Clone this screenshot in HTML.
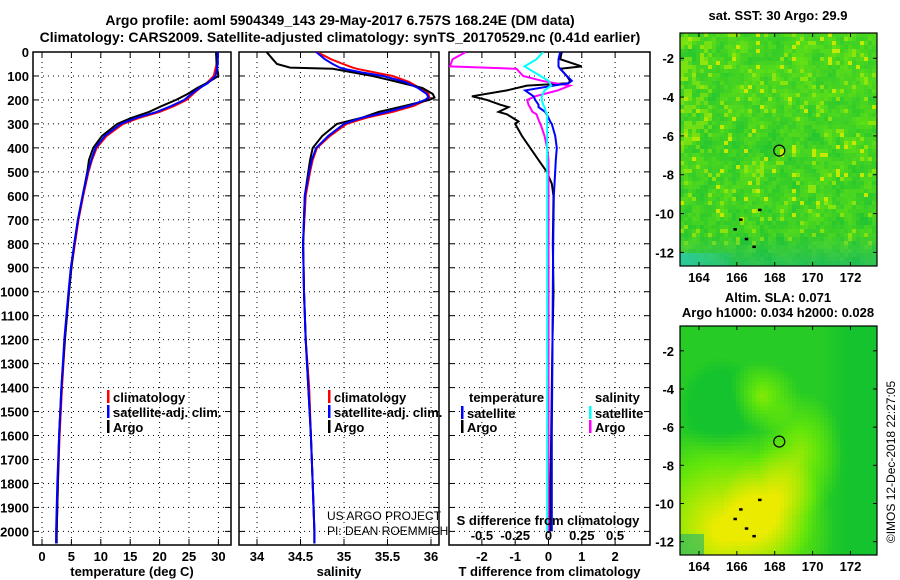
<!DOCTYPE html>
<html><head><meta charset="utf-8">
<style>
html,body{margin:0;padding:0;background:#fff;}
svg{display:block;font-family:"Liberation Sans",Arial,sans-serif;}
.b{font-weight:bold;font-size:13px;fill:#000;}
.t{font-weight:bold;font-size:14px;fill:#000;}
</style></head>
<body>
<svg id="chart" width="900" height="580" viewBox="0 0 900 580">
<text class="t" x="340" y="25" text-anchor="middle">Argo profile: aoml 5904349_143 29-May-2017 6.757S 168.24E (DM data)</text>
<text class="t" x="340" y="42" text-anchor="middle">Climatology: CARS2009. Satellite-adjusted climatology: synTS_20170529.nc (0.41d earlier)</text>
<g id="g"></g>
<text x="895" y="462" font-size="12" text-anchor="middle" transform="rotate(-90 895 462)">©IMOS 12-Dec-2018 22:27:05</text>
</svg>
<script>
// ---- data ----
const depthTicks=[0,100,200,300,400,500,600,700,800,900,1000,1100,1200,1300,1400,1500,1600,1700,1800,1900,2000];
const tempTicks=[0,5,10,15,20,25,30];
const salTicks=[34,34.5,35,35.5,36];
const tdTicks=[-2,-1,0,1,2];
const sdTicks=[-0.5,-0.25,0,0.25,0.5];
const sdTickLabels=["-0.5","-0.25","0","0.25","0.5"];
const tDepth=[0,50,100,130,150,175,200,225,250,275,300,350,400,450,500,600,700,800,900,1000,1200,1400,1600,1800,2000,2050];
const tClim=[29.8,29.7,29.2,28,26.9,25.7,24.6,22.5,20,16.5,13.8,11,9.3,8.5,7.9,7.0,6.2,5.6,5.0,4.6,3.9,3.4,3.0,2.7,2.5,2.4];
const tSatAdj=[29.9,29.9,29.5,28.2,26.8,25.4,24.2,22,19.5,16,13.4,10.7,9.1,8.4,7.8,6.9,6.1,5.5,4.9,4.5,3.8,3.3,2.9,2.6,2.4,2.4];
const tArgoProf=[29.6,29.7,30.0,28.0,26.4,24.8,22.8,20.4,18.2,15.2,12.8,10.2,8.7,8.0,7.7,6.9,6.1,5.5,5.0,4.6,3.9,3.3,2.9,2.7,2.5,2.5];
const sDepth=[0,30,50,65,70,85,100,125,150,175,190,200,225,250,275,300,350,400,450,500,600,800,1000,1200,1400,1600,1800,2000,2050];
const sClim=[34.69,34.85,34.99,35.1,35.15,35.35,35.56,35.75,35.87,35.97,35.98,35.95,35.8,35.56,35.25,35.03,34.84,34.69,34.64,34.61,34.56,34.53,34.54,34.56,34.6,34.62,34.64,34.66,34.66];
const sSatAdj=[34.68,34.78,34.87,34.95,35.0,35.2,35.45,35.7,35.85,35.95,35.97,35.93,35.75,35.5,35.2,35.0,34.82,34.68,34.63,34.6,34.55,34.53,34.54,34.56,34.59,34.62,34.64,34.66,34.66];
const sArgoProf=[34.11,34.18,34.23,34.38,34.87,35.1,35.33,35.62,35.9,36.02,36.04,35.98,35.7,35.4,35.2,34.92,34.75,34.64,34.61,34.59,34.55,34.53,34.54,34.56,34.59,34.62,34.64,34.66,34.66];
const dDepth=[0,30,60,70,100,120,130,140,160,185,200,220,230,250,260,290,300,350,400,450,500,550,600,800,1000,1200,1400,1600,1800,2000];
const tdArgo=[0.4,0.35,1.0,0.35,0.55,0.65,0.6,-0.65,-1.25,-2.3,-1.85,-1.45,-1.2,-1.5,-1.25,-0.9,-1.0,-0.8,-0.55,-0.3,-0.05,0.1,0.15,0.13,0.15,0.12,0.1,0.08,0.06,0.05];
const tdSat=[0.35,0.3,0.3,0.35,0.55,0.7,0.6,0.15,-0.7,-0.45,-0.4,-0.3,-0.3,-0.1,-0.05,0.05,0.1,0.2,0.25,0.22,0.2,0.18,0.16,0.14,0.13,0.12,0.11,0.1,0.1,0.1];
const sdArgo=[-0.62,-0.72,-0.74,-0.24,-0.19,-0.05,0.05,0.16,0.07,-0.1,-0.16,-0.15,-0.14,-0.12,-0.09,-0.07,-0.06,-0.03,-0.01,0,0,0,0,0,0,0,0,0,0,0];
const sdSat=[-0.04,-0.09,-0.18,-0.15,-0.06,0.0,0.01,0.02,-0.03,-0.05,-0.05,-0.04,-0.03,-0.02,-0.01,-0.01,-0.01,-0.01,-0.01,-0.01,-0.01,-0.01,-0.01,-0.01,-0.01,-0.01,-0.01,-0.01,-0.01,-0.01];
const latTicks=[-2,-4,-6,-8,-10,-12];
const lonTicks=[164,166,168,170,172];
const argoLon=168.24, argoLat=-6.757;

const NS="http://www.w3.org/2000/svg";
const G=document.getElementById('g');
function mk(tag,attrs,parent){const e=document.createElementNS(NS,tag);for(const k in attrs)e.setAttribute(k,attrs[k]);(parent||G).appendChild(e);return e;}
const TOP=52,BOT=545;
const yD=d=>TOP+d*0.2397;

function panel(name,x0,x1,xs,ticks,labels,title){
  const g=mk('g',{});
  
  
  depthTicks.forEach(d=>{const y=yD(d);
    const l=mk('line',{x1:x0,x2:x1,y1:y,y2:y,stroke:'#000','stroke-width':1,'stroke-dasharray':'1 4'},g);
    
    
    mk('line',{x1:x0,x2:x0+6,y1:y,y2:y,stroke:'#000'},g);mk('line',{x1:x1-6,x2:x1,y1:y,y2:y,stroke:'#000'},g);});
  ticks.forEach((v,i)=>{const x=xs(v);
    const l=mk('line',{x1:x,x2:x,y1:TOP,y2:BOT,stroke:'#000','stroke-width':1,'stroke-dasharray':'1 4'},g);
    
    
    mk('line',{x1:x,x2:x,y1:TOP,y2:TOP+6,stroke:'#000'},g);mk('line',{x1:x,x2:x,y1:BOT-6,y2:BOT,stroke:'#000'},g);
    const t=mk('text',{x:x,y:561,'text-anchor':'middle',class:'b'},g);t.textContent=labels[i];
    
    });
  const r=mk('rect',{x:x0,y:TOP,width:x1-x0,height:BOT-TOP,fill:'none',stroke:'#000','stroke-width':1.5},g);
  
  
  const tt=mk('text',{x:(x0+x1)/2,y:576,'text-anchor':'middle',class:'b'},g);tt.textContent=title;
  
  
  return g;
}
function series(name,xs,vals,deps,color,x0,x1){
  const pts=vals.map((v,i)=>xs(v).toFixed(1)+','+yD(deps[i]).toFixed(1)).join(' ');
  const id='c'+name;const cp=mk('clipPath',{id:id});mk('rect',{x:x0,y:TOP,width:x1-x0,height:BOT-TOP},cp);
  const p=mk('polyline',{points:pts,fill:'none',stroke:color,'stroke-width':2,'stroke-linejoin':'miter','clip-path':'url(#'+id+')'});
  
  
}
depthTicks.forEach(d=>{const t=mk('text',{x:29,y:yD(d)+5,'text-anchor':'end',class:'b'});t.textContent=d;
  
  });

const xT=v=>42+v*5.88;
panel('temperature',33,231,xT,tempTicks,tempTicks.map(String),'temperature (deg C)');
series('temp-climatology',xT,tClim,tDepth,'#f00',33,231);
series('temp-argo',xT,tArgoProf,tDepth,'#000',33,231);
series('temp-satellite-adj',xT,tSatAdj,tDepth,'#00f',33,231);
const xS=v=>257+(v-34)*87;
panel('salinity',239,439,xS,salTicks,salTicks.map(String),'salinity');
series('sal-climatology',xS,sClim,sDepth,'#f00',239,439);
series('sal-argo',xS,sArgoProf,sDepth,'#000',239,439);
series('sal-satellite-adj',xS,sSatAdj,sDepth,'#00f',239,439);
const xTD=v=>548.5+v*33.3;
const xSD=v=>548.5+v*133.2;
panel('difference',449,650,xTD,tdTicks,tdTicks.map(String),'T difference from climatology');
series('tdiff-argo',xTD,tdArgo,dDepth,'#000',449,650);
series('sdiff-argo',xSD,sdArgo,dDepth,'#f0f',449,650);
series('tdiff-satellite',xTD,tdSat,dDepth,'#00f',449,650);
series('sdiff-satellite',xSD,sdSat,dDepth,'#0ff',449,650);
{const t=mk('text',{x:548,y:525,'text-anchor':'middle',class:'b'});t.textContent='S difference from climatology';
 }
sdTicks.forEach((v,i)=>{const t=mk('text',{x:xSD(v),y:540,'text-anchor':'middle',class:'b'});t.textContent=sdTickLabels[i];
  });

function leg(x,y,color,label,nm){
  const r=mk('rect',{x:x,y:y-10,width:2.5,height:13,fill:color});
  
  const t=mk('text',{x:x+6,y:y+2,class:'b'});t.textContent=label;
  
}
leg(107,400,'#f00','climatology','legend-temp-climatology');
leg(107,415,'#00f','satellite-adj. clim.','legend-temp-satellite');
leg(107,430,'#000','Argo','legend-temp-argo');
leg(328,400,'#f00','climatology','legend-sal-climatology');
leg(328,415,'#00f','satellite-adj. clim.','legend-sal-satellite');
leg(328,430,'#000','Argo','legend-sal-argo');
{const t=mk('text',{x:469,y:402,class:'b'});t.textContent='temperature';
 const u=mk('text',{x:595,y:402,class:'b'});u.textContent='salinity';}
leg(461,416,'#00f','satellite','legend-tdiff-satellite');
leg(461,430,'#000','Argo','legend-tdiff-argo');
leg(589,416,'#0ff','satellite','legend-sdiff-satellite');
leg(589,430,'#f0f','Argo','legend-sdiff-argo');
{const a=mk('text',{x:327,y:520,'font-size':12});a.textContent='US ARGO PROJECT';
 const b=mk('text',{x:327,y:535,'font-size':12});b.textContent='PI: DEAN ROEMMICH';}

// maps (background imagery)
function hash(i,j){let h=(i*374761393+j*668265263)>>>0;h=((h^(h>>>13))*1274126177)>>>0;return ((h^(h>>>16))>>>0)/4294967295;}
function mix(a,b,t){t=Math.max(0,Math.min(1,t));return a.map((v,i)=>Math.round(v+(b[i]-v)*t));}
function smooth(i,j){ // blurred noise
  let s=0;for(let a=-1;a<=1;a++)for(let b=-1;b<=1;b++)s+=hash(i+a,j+b);return s/9;}
function map(name,x0,y0,x1,y1,latTop,latBot,fieldFn,cell){
  const g=mk('g',{});
  const lonL=163, lonR=173.4;
  const xL=v=>x0+(v-lonL)/(lonR-lonL)*(x1-x0);
  const yL=v=>y0+(latTop-v)/(latTop-latBot)*(y1-y0);
  for(let i=0;x0+i*cell<x1;i++)for(let j=0;y0+j*cell<y1;j++){
    const u=(i*cell)/(x1-x0), v=(j*cell)/(y1-y0);
    const c=fieldFn(u,v,i,j);
    mk('rect',{x:x0+i*cell,y:y0+j*cell,width:Math.min(cell,x1-x0-i*cell)+0.3,height:Math.min(cell,y1-y0-j*cell)+0.3,fill:'rgb('+c.join(',')+')'},g);
  }
  mk('rect',{x:x0,y:y0,width:x1-x0,height:y1-y0,fill:'none',stroke:'#000','stroke-width':1.2},g);
  latTicks.forEach(v=>{const y=yL(v);mk('line',{x1:x0,x2:x0+4,y1:y,y2:y,stroke:'#000'},g);mk('line',{x1:x1-4,x2:x1,y1:y,y2:y,stroke:'#000'},g);
    const t=mk('text',{x:x0-6,y:y+5,'text-anchor':'end',class:'b'},g);t.textContent=v;});
  lonTicks.forEach(v=>{const x=xL(v);mk('line',{x1:x,x2:x,y1:y0,y2:y0+4,stroke:'#000'},g);mk('line',{x1:x,x2:x,y1:y1-4,y2:y1,stroke:'#000'},g);
    const t=mk('text',{x:x,y:y1+16,'text-anchor':'middle',class:'b'},g);t.textContent=v;});
  const c=mk('circle',{cx:xL(argoLon),cy:yL(argoLat),r:5.5,fill:'none',stroke:'#000','stroke-width':1.2},g);
  
  [[165.9,-10.8],[166.5,-11.3],[166.9,-11.7],[166.2,-10.3],[167.2,-9.8]].forEach(p=>mk('rect',{x:xL(p[0])-1.5,y:yL(p[1])-1,width:3.5,height:2.5,fill:'#000'},g));
}
const DG=[30,195,50],G2=[100,225,20],YG=[150,230,10],Y=[210,235,0],T=[30,185,120],C=[40,205,205];
map('sst-map',680,33,877,266,-0.7,-12.7,(u,v,i,j)=>{
  const s=smooth(i,j), r=hash(i,j);
  let base=0.25+0.9*(s-0.3)*1.6 - v*0.35 + 0.1;
  let c=mix(DG,G2,base*0.7+r*0.45);
  if(r>0.9&&v<0.9)c=mix(c,YG,0.8);
  if(r>0.97&&v<0.8)c=mix(c,Y,0.8);
  if(u<0.15&&v<0.5&&r>0.5)c=mix(c,YG,0.5);
  if(v>0.85)c=mix(c,T,(v-0.85)*5*(0.6+r*0.4));
  if(v>0.93&&u<0.25)c=mix(c,C,0.6*(1-u*3));
  return c;},4);
map('sla-map',680,326,877,555,-0.7,-12.7,(u,v)=>{
  const d1=Math.hypot((u-0.22)*1.0,(v-0.88)*1.2);
  const d2=Math.hypot(u-0.4,(v-0.3)*1.3);
  const d3=Math.hypot(u-0.6,(v-0.55)*0.8);
  const d4=Math.hypot(u-0.45,v-0.78);
  let t=0.1+Math.max(0,1-d1/0.55)*1.0+Math.max(0,1-d2/0.2)*0.5+Math.max(0,1-d3/0.22)*0.55+Math.max(0,1-d4/0.25)*0.5;
  // darker band upper-left and right side
  t-=Math.max(0,1-Math.hypot(u-0.2,v-0.35)/0.22)*0.35;
  t-=Math.max(0,u-0.72)*0.8;
  t=Math.max(0,Math.min(1,t));
  let c=t<0.45?mix([20,195,45],[100,230,10],t/0.45):mix([100,230,10],[235,235,0],(t-0.45)/0.55);
  if(u<0.12&&v>0.9)c=mix(c,[30,180,110],0.6);
  return c;},4);
{const a=mk('text',{x:778,y:20,'text-anchor':'middle',class:'b'});a.textContent='sat. SST: 30 Argo: 29.9';
 const b=mk('text',{x:778,y:302,'text-anchor':'middle',class:'b'});b.textContent='Altim. SLA: 0.071';
 const c=mk('text',{x:778,y:317,'text-anchor':'middle',class:'b'});c.textContent='Argo h1000: 0.034 h2000: 0.028';}
</script>
</body></html>
